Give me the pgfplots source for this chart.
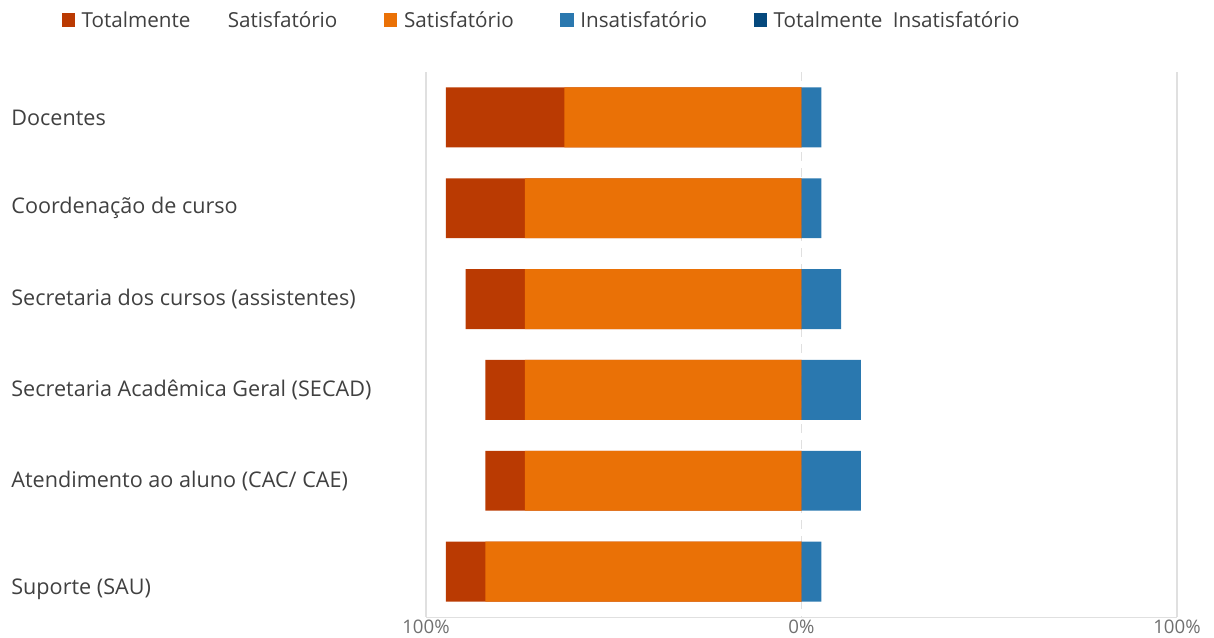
\documentclass[border=0pt]{standalone}
\usepackage{pgfplots}
\pgfplotsset{compat=1.18}
\usepackage{fontspec}
\setmainfont{Open Sans}
\definecolor{cTS}{HTML}{BA3A02}
\definecolor{cS}{HTML}{EA7106}
\definecolor{cI}{HTML}{2A78AF}
\definecolor{cTI}{HTML}{05497D}
\definecolor{gridc}{HTML}{E0E0E0}
\definecolor{labc}{HTML}{404040}
\definecolor{tickc}{HTML}{707070}
\begin{document}
\begin{tikzpicture}
\useasboundingbox (0,0) rectangle (910.5pt,477.75pt);
\begin{axis}[
  at={(319.5pt,15pt)}, anchor=south west,
  scale only axis, width=563.25pt, height=408.75pt,
  xmin=-100, xmax=100, ymin=-0.5, ymax=5.5,
  y dir=reverse,
  xbar, bar shift=0pt, bar width=0.66,
  xtick={-100,100}, xticklabels={100\%,100\%},
  extra x ticks={0}, extra x tick labels={0\%},
  extra x tick style={grid style={gridc, dash pattern=on 7pt off 5pt, line width=1pt}},
  xmajorgrids, grid style={gridc, line width=0.9pt},
  major tick length=0pt,
  axis x line*=bottom, axis y line*=left,
  x axis line style={gridc, -},
  y axis line style={draw=none},
  ytick={0,1,2,3,4,5},
  yticklabels={Docentes, Coordenação de curso, Secretaria dos cursos (assistentes), Secretaria Acadêmica Geral (SECAD), Atendimento ao aluno (CAC/ CAE), \raisebox{-17.5pt}[0pt][0pt]{Suporte (SAU)}},
  yticklabel style={anchor=west, xshift=-314.5pt, font=\fontsize{16.2}{18}\selectfont, text=labc},
  xticklabel style={font=\fontsize{14}{16}\selectfont, text=tickc, yshift=1pt},
  legend style={at={(-276.5pt,1.0)}, anchor=south west, yshift=28pt, draw=none, font=\fontsize{15.5}{17}\selectfont, text=labc, legend columns=4, /tikz/every even column/.append style={column sep=33pt}, /tikz/every odd column/.append style={column sep=3pt}},
  legend image code/.code={\fill[#1] (0pt,-5pt) rectangle (10pt,5pt);},
]
\addplot[fill=cTS, draw=none] coordinates {(-94.74,0) (-94.74,1) (-89.47,2) (-84.21,3) (-84.21,4) (-94.74,5)};
\addlegendentry{Totalmente\hspace{28pt}Satisfatório}
\addplot[fill=cS, draw=none] coordinates {(-63.16,0) (-73.68,1) (-73.68,2) (-73.68,3) (-73.68,4) (-84.21,5)};
\addlegendentry{Satisfatório}
\addplot[fill=cI, draw=none] coordinates {(5.26,0) (5.26,1) (10.53,2) (15.79,3) (15.79,4) (5.26,5)};
\addlegendentry{Insatisfatório}
\addplot[fill=cTI, draw=none] coordinates {(0,0) (0,1) (0,2) (0,3) (0,4) (0,5)};
\addlegendentry{Totalmente\enspace Insatisfatório}
\end{axis}
\end{tikzpicture}
\end{document}
